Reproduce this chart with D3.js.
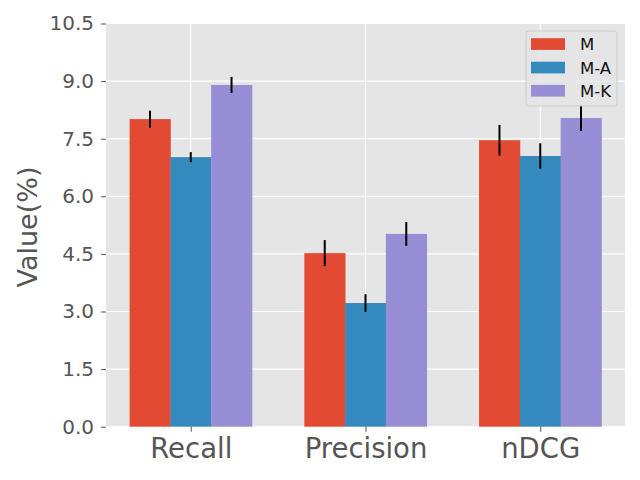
<!DOCTYPE html>
<html>
<head>
<meta charset="utf-8">
<script src="https://cdn.jsdelivr.net/npm/d3@7"></script>
<style>
  html, body { margin: 0; padding: 0; background: #fff; }
  svg { display: block; font-family: "DejaVu Sans", sans-serif; }
</style>
</head>
<body>
<svg id="chart" width="640" height="480"></svg>
<script>
const categories = ["Recall", "Precision", "nDCG"];
const seriesNames = ["M", "M-A", "M-K"];
const valuesM  = [8.01, 4.52, 7.46];
const valuesMA = [7.02, 3.22, 7.05];
const valuesMK = [8.90, 5.02, 8.04];
const errM  = [0.22, 0.34, 0.40];
const errMA = [0.13, 0.23, 0.33];
const errMK = [0.21, 0.31, 0.34];
const yTicks = [0, 1.5, 3.0, 4.5, 6.0, 7.5, 9.0, 10.5];
const colors = ["#E24A33", "#348ABD", "#988ED5"];

const series = [
  { name: seriesNames[0], values: valuesM,  errs: errM,  color: colors[0] },
  { name: seriesNames[1], values: valuesMA, errs: errMA, color: colors[1] },
  { name: seriesNames[2], values: valuesMK, errs: errMK, color: colors[2] }
];

const L = 106, R = 625, T = 23.5, B = 426.7;
const barW = 0.7 / 3;

const svg = d3.select("#chart");
const x = d3.scaleLinear().domain([-0.485, 2.485]).range([L, R]);
const y = d3.scaleLinear().domain([0, 10.5]).range([B, T]);

// background
svg.append("rect").attr("x", L).attr("y", T).attr("width", R - L).attr("height", B - T).attr("fill", "#E5E5E5");

// grid
svg.append("g").selectAll("line").data(yTicks).join("line")
  .attr("x1", L).attr("x2", R)
  .attr("y1", d => y(d)).attr("y2", d => y(d))
  .attr("stroke", "#fff").attr("stroke-width", 1.1);
svg.append("g").selectAll("line").data(categories).join("line")
  .attr("x1", (d, i) => x(i)).attr("x2", (d, i) => x(i))
  .attr("y1", T).attr("y2", B)
  .attr("stroke", "#fff").attr("stroke-width", 1.1);

// bars
series.forEach((s, si) => {
  const off = (si - 1) * barW;
  svg.append("g").selectAll("rect").data(s.values).join("rect")
    .attr("x", (d, i) => x(i + off - barW / 2))
    .attr("width", x(barW) - x(0) + 0.4)
    .attr("y", d => y(d))
    .attr("height", d => y(0) - y(d))
    .attr("fill", s.color);
});
// error bars
series.forEach((s, si) => {
  const off = (si - 1) * barW;
  svg.append("g").selectAll("line").data(s.values).join("line")
    .attr("x1", (d, i) => x(i + off)).attr("x2", (d, i) => x(i + off))
    .attr("y1", (d, i) => y(d - s.errs[i])).attr("y2", (d, i) => y(d + s.errs[i]))
    .attr("stroke", "#000").attr("stroke-width", 2);
});

// y axis
const yAxis = d3.axisLeft(y).tickValues(yTicks).tickFormat(d3.format(".1f")).tickSize(5).tickPadding(7);
const gy = svg.append("g").attr("transform", `translate(${L},0)`).call(yAxis);
gy.select(".domain").remove();
gy.selectAll("line").attr("stroke", "#555555");
gy.selectAll("text").attr("fill", "#555555").style("font-size", "20px").style("font-family", "DejaVu Sans");

// x axis
const xAxis = d3.axisBottom(x).tickValues([0, 1, 2]).tickFormat(i => categories[i]).tickSize(5).tickPadding(7);
const gx = svg.append("g").attr("transform", `translate(0,${B})`).call(xAxis);
gx.select(".domain").remove();
gx.selectAll("line").attr("stroke", "#555555");
gx.selectAll("text").attr("fill", "#555555").style("font-size", "27.5px").style("font-family", "DejaVu Sans");

// y label
svg.append("text")
  .attr("transform", `translate(37,227) rotate(-90)`)
  .attr("text-anchor", "middle")
  .attr("fill", "#555555")
  .style("font-size", "27px")
  .text("Value(%)");

// legend
const lg = svg.append("g");
lg.append("rect").attr("x", 526).attr("y", 31).attr("width", 91).attr("height", 75).attr("rx", 3)
  .attr("fill", "#E5E5E5").attr("fill-opacity", 0.8).attr("stroke", "#CCCCCC").attr("stroke-width", 1);
const rowY = [44, 67.5, 90.7];
series.forEach((s, si) => {
  lg.append("rect").attr("x", 531).attr("y", rowY[si] - 5.8).attr("width", 34).attr("height", 11.7).attr("fill", s.color);
  lg.append("text").attr("x", 580).attr("y", rowY[si] + 6.3).attr("fill", "#111")
    .style("font-size", "16.5px").text(s.name);
});
</script>
</body>
</html>
